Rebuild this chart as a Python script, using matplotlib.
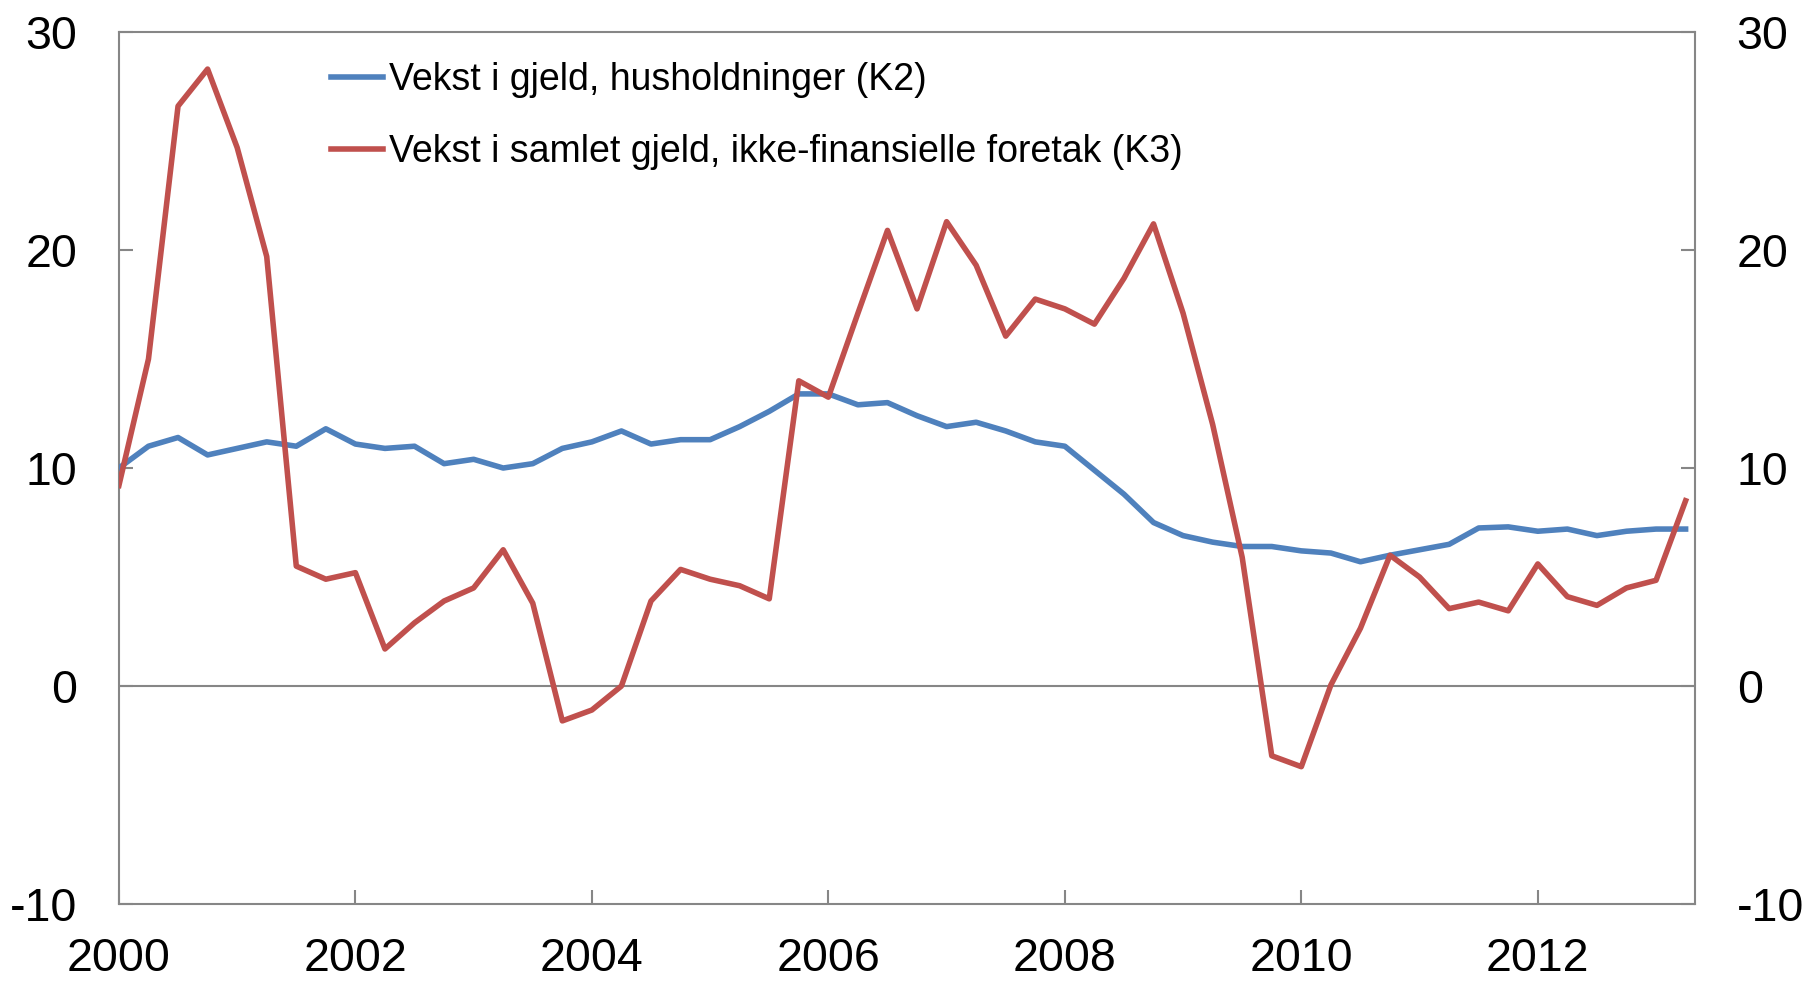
import numpy as np
import matplotlib
matplotlib.use("Agg")
import matplotlib.pyplot as plt

plt.rcParams["font.family"] = ["Liberation Sans", "DejaVu Sans"]
plt.rcParams["axes.unicode_minus"] = False

# Quarterly data, 2000 Q1 - 2013 Q2
start_year = 2000
households = [10.0, 11.0, 11.4, 10.6, 10.9, 11.2, 11.0, 11.8, 11.1, 10.9,
              11.0, 10.2, 10.4, 10.0, 10.2, 10.9, 11.2, 11.7, 11.1, 11.3,
              11.3, 11.9, 12.6, 13.4, 13.4, 12.9, 13.0, 12.4, 11.9, 12.1,
              11.7, 11.2, 11.0, 9.9, 8.8, 7.5, 6.9, 6.6, 6.4, 6.4,
              6.2, 6.1, 5.7, 6.0, 6.25, 6.5, 7.25, 7.3, 7.1, 7.2,
              6.9, 7.1, 7.2, 7.2]
firms = [9.2, 15.0, 26.6, 28.3, 24.7, 19.7, 5.5, 4.9, 5.2, 1.7,
         2.9, 3.9, 4.5, 6.25, 3.8, -1.6, -1.1, 0.0, 3.9, 5.35,
         4.9, 4.6, 4.0, 14.0, 13.25, 17.1, 20.9, 17.3, 21.3, 19.3,
         16.05, 17.75, 17.3, 16.6, 18.7, 21.2, 17.1, 12.0, 5.9, -3.2,
         -3.7, 0.05, 2.65, 6.0, 5.0, 3.55, 3.85, 3.45, 5.6, 4.1,
         3.7, 4.5, 4.85, 8.5]
labels = ["Vekst i gjeld, husholdninger (K2)",
          "Vekst i samlet gjeld, ikke-finansielle foretak (K3)"]
year_ticks = [2000, 2002, 2004, 2006, 2008, 2010, 2012]
y_ticks = [-10, 0, 10, 20, 30]

x = start_year + np.arange(len(households)) / 4.0

blue = "#4F81BD"
red = "#C0504D"
gray = "#868686"

fig = plt.figure(figsize=(18.1, 9.82), dpi=100)
ax = fig.add_axes([0.0657, 0.0794, 0.8708, 0.888])

ax.axhline(0, color=gray, lw=1.5, zorder=1)
ax.plot(x, households, color=blue, lw=4, label=labels[0], zorder=3)
ax.plot(x, firms, color=red, lw=4, label=labels[1], zorder=3)

ax.set_xlim(2000, 2013.33)
ax.set_ylim(-10, 30)
ax.set_xticks(year_ticks)
ax.set_yticks(y_ticks)

for s in ax.spines.values():
    s.set_color(gray)
    s.set_linewidth(1.5)

ax.tick_params(axis="both", direction="in", length=10, width=1.5,
               color=gray, labelsize=33.5)
ax.tick_params(axis="y", pad=30)
ax.tick_params(axis="x", pad=24)

ax2 = ax.twinx()
ax2.set_ylim(-10, 30)
ax2.set_yticks(y_ticks)
ax2.tick_params(axis="y", direction="in", length=10, width=1.5,
                color=gray, labelsize=33.5, pad=30)
for s in ax2.spines.values():
    s.set_visible(False)

leg = ax.legend(loc="upper left", bbox_to_anchor=(0.1345, 0.966),
                frameon=False, fontsize=27, handlelength=1.4,
                handletextpad=0.15, labelspacing=0.97,
                borderaxespad=0, borderpad=0)

fig.savefig("out.png", dpi=100)
